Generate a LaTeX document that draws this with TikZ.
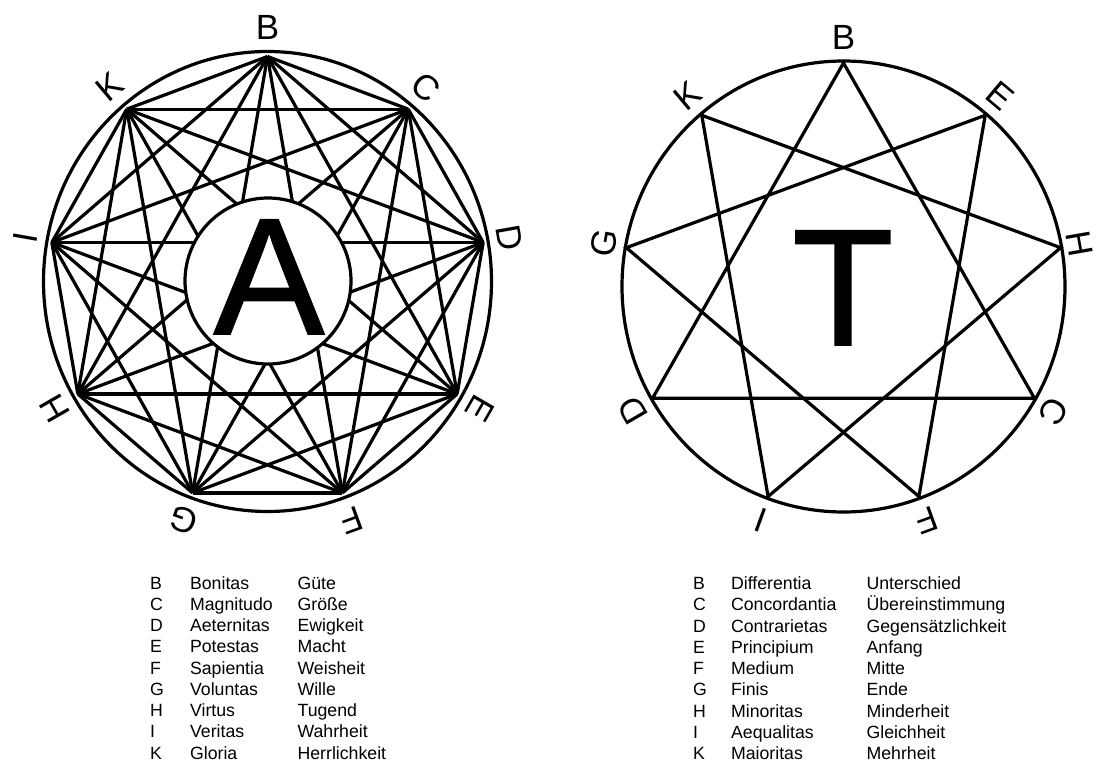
\documentclass[tikz,border=0pt]{standalone}
\usepackage{fontspec}
\setmainfont{Liberation Sans}
\newfontfamily\bigletterfont[FakeBold=1]{Liberation Sans}
\begin{document}
\begin{tikzpicture}[x=1pt,y=-1pt,line width=3.2pt,
  lbl/.style={inner sep=0pt,font=\fontsize{35}{40}\selectfont},
  big/.style={inner sep=0pt,anchor=base,font=\bigletterfont\fontsize{166}{170}\selectfont},
  leg/.style={inner sep=0pt,anchor=base west,font=\fontsize{17.7}{21}\selectfont},
  tri/.style={line join=miter}]
\useasboundingbox (0,0) rectangle (1098,765);
\fill[white] (0,0) rectangle (1098,765);
% ---------- left figure ----------
\coordinate (Lc) at (267.5,281.5);
\foreach \n/\a in {B/90,C/50,D/10,E/-30,F/-70,G/-110,H/-150,I/170,K/130}{
  \path (Lc) ++(\a:219pt and 225pt) coordinate (L\n);
  \path (Lc) ++(\a:246pt and 254pt) node[lbl,rotate=\a-90] (LL\n) {\n};
}
\foreach \p [count=\i] in {B,C,D,E,F,G,H,I,K}{
  \foreach \q [count=\j] in {B,C,D,E,F,G,H,I,K}{
    \ifnum\j>\i \draw (L\p) -- (L\q); \fi
  }
}
\draw (Lc) ellipse [x radius=224pt,y radius=230pt];
\node[circle,draw,fill=white,minimum size=166pt,inner sep=0pt] (Lin) at (268,281) {};
\node[big] (LA) at (269,334) {A};
% ---------- right figure ----------
\coordinate (Rc) at (843.5,286.5);
\foreach \n/\a/\r in {B/90/249,E/50/249,H/10/245.6,C/-30/249,F/-70/249,I/-110/249,D/-150/249,G/170/249,K/130/249}{
  \path (Rc) ++(\a:220.5pt and 223.5pt) coordinate (R\n);
  \path (Rc) ++(\a:\r pt-6pt and \r pt) node[lbl,rotate=\a-90] (RL\n) {\n};
}
\draw (Rc) ellipse [x radius=221.5pt,y radius=225.5pt];
\draw[tri] (RB) -- (RC) -- (RD) -- cycle;
\draw[tri] (RE) -- (RF) -- (RG) -- cycle;
\draw[tri] (RK) -- (RH) -- (RI) -- cycle;
\node[big] (RT) at (843,345) {T};
% ---------- legends ----------
\foreach \k/\l/\m [count=\i from 0] in {B/Bonitas/Güte,C/Magnitudo/Größe,D/Aeternitas/Ewigkeit,E/Potestas/Macht,F/Sapientia/Weisheit,G/Voluntas/Wille,H/Virtus/Tugend,I/Veritas/Wahrheit,K/Gloria/Herrlichkeit}{
  \node[leg] (lk\i) at ({148.5},{589+21.25*\i}) {\k};
  \node[leg] (ll\i) at ({188.5},{589+21.25*\i}) {\l};
  \node[leg] (lg\i) at ({296},{589+21.25*\i}) {\m};
}
\foreach \k/\l/\m [count=\i from 0] in {B/Differentia/Unterschied,C/Concordantia/Übereinstimmung,D/Contrarietas/Gegensätzlichkeit,E/Principium/Anfang,F/Medium/Mitte,G/Finis/Ende,H/Minoritas/Minderheit,I/Aequalitas/Gleichheit,K/Maioritas/Mehrheit}{
  \node[leg] (rk\i) at ({691.5},{589.5+21.25*\i}) {\k};
  \node[leg] (rl\i) at ({729.5},{589.5+21.25*\i}) {\l};
  \node[leg] (rg\i) at ({865},{589.5+21.25*\i}) {\m};
}
\end{tikzpicture}
\end{document}
